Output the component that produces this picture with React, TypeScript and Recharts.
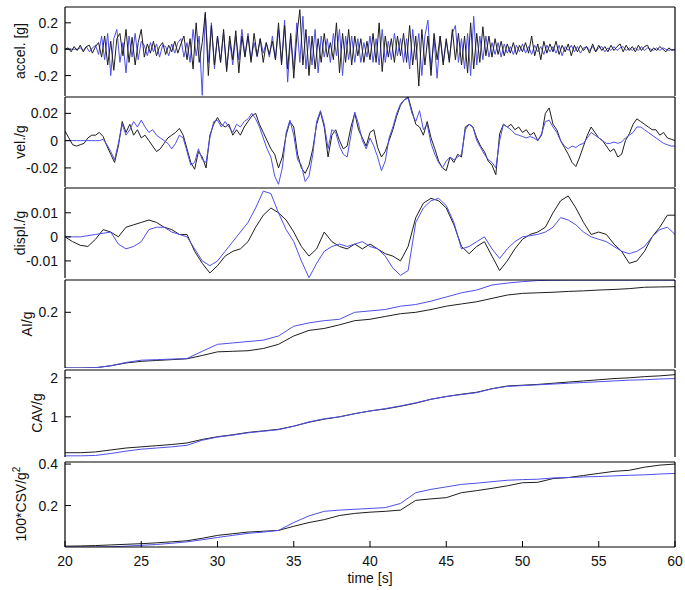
import { LineChart, Line, XAxis, YAxis } from 'recharts'

// time axis
const xTicks = [20, 25, 30, 35, 40, 45, 50, 55, 60]

// acceleration [g], sampled every 0.2 s from 20 s
const accelBlack = [
  0, 0.01, -0.02, 0.02, -0.01, 0.03, -0.02, 0.02, 0.03, -0.03, 0.02,
  0.05, -0.06, 0.1, -0.12, 0.06, -0.16, 0.08, 0.12, -0.05, 0.15, -0.1, 0.09, -0.12, 0.05, 0.15,
  -0.06, 0.04, -0.03, 0.06, -0.05, 0.02, 0.05, -0.04, 0.03, -0.02, 0.06, -0.03, 0.04, 0.1, -0.08,
  0.08, -0.15, 0.2, -0.1, 0.05, 0.28, -0.2, 0.18, -0.12, 0.1,
  -0.1, 0.15, -0.17, 0.1, -0.08, 0.14, -0.18, 0.1, -0.06, 0.1, -0.1, 0.12, -0.05, 0.08, -0.1,
  0.05, -0.04, 0.06, -0.08, 0.2, -0.12, 0.18, -0.15, 0.12, -0.22, 0.1, 0.3, -0.12, 0.15, -0.2,
  0.1, -0.15, 0.08, -0.1, 0.12, -0.06, 0.05, -0.08, 0.2, -0.18, 0.12, -0.1, 0.15, -0.12, 0.1,
  -0.05, 0.08, -0.1, 0.06, -0.08, 0.12, -0.1, 0.2, -0.17, 0.1, -0.06, 0.08, -0.1, 0.1, -0.05,
  0.12, -0.1, 0.18, -0.12, 0.1, -0.28, 0.15, -0.12, 0.1, -0.2, 0.12, -0.08, 0.1, -0.12, 0.08,
  -0.1, 0.15, -0.08, 0.12, -0.12, 0.1, -0.18, 0.2, -0.15, 0.12, -0.1, 0.17, -0.05, 0.1, -0.06,
  0.08, -0.04, 0.06, -0.05, 0.04, -0.03, 0.05, -0.04, 0.03, -0.02, 0.05, -0.03, 0.1, -0.05, 0.04,
  -0.08, 0.06, -0.03, 0.04, -0.02, 0.06, -0.04, 0.03, -0.02, 0.04, -0.05, 0.03, -0.02, 0.03, -0.01,
  0.02, -0.03, 0.04, -0.02, 0.03, -0.01, 0.02, -0.02, 0.03, -0.01, 0.02, 0.04, -0.02, 0.03, -0.01,
  0.02, -0.02, 0.03, -0.01, 0.02, 0.03, -0.02, 0.01, -0.01, 0.02, 0.0, -0.02, 0.01, -0.01, 0.0,
]
const accelBlue = [
  0, 0, 0, 0, 0, 0.01, -0.01, 0.02, -0.02, 0.01, 0.03,
  -0.04, 0.1, -0.08, 0.12, -0.2, 0.08, 0.15, -0.1, 0.05, -0.18, 0.1, -0.06, 0.12, -0.08, 0.06,
  0.03, -0.05, 0.05, -0.02, 0.04, -0.06, 0.03, 0.02, -0.05, 0.04, -0.03, 0.05, 0.08, -0.06, 0.05,
  -0.1, 0.15, -0.05, 0.1, -0.35, 0.27, -0.1, 0.2, -0.15, 0.1,
  -0.1, 0.12, -0.15, 0.06, -0.12, 0.1, -0.08, 0.15, -0.05, 0.12, -0.08, 0.05, -0.06, 0.08, -0.03,
  0.05, -0.06, 0.1, -0.08, 0.15, -0.1, 0.22, -0.25, 0.1, -0.15, 0.2, -0.1, 0.25, -0.15, 0.1,
  -0.12, 0.15, -0.18, 0.1, -0.06, 0.08, -0.1, 0.12, -0.05, 0.15, -0.2, 0.1, -0.08, 0.1, -0.1,
  0.08, -0.1, 0.05, -0.06, 0.1, -0.1, 0.08, -0.12, 0.15, -0.1, 0.06, -0.08, 0.12, -0.05, 0.08,
  -0.1, 0.08, -0.15, 0.15, -0.08, 0.12, -0.2, 0.1, 0.22, -0.15, 0.08, -0.22, 0.1, -0.1, 0.06,
  -0.08, 0.12, 0.18, -0.1, 0.08, -0.15, 0.12, -0.2, 0.25, -0.12, 0.1, -0.08, 0.1, -0.06, 0.05,
  -0.04, 0.05, -0.06, 0.04, -0.03, 0.02, -0.04, 0.03, -0.02, 0.04, -0.03, 0.02, -0.04, 0.03, -0.02,
  0.02, -0.04, 0.03, -0.02, 0.02, -0.03, 0.03, -0.05, 0.02, -0.01, 0.03, -0.02, 0.02, -0.03, 0.01,
  0.02, -0.01, 0.02, -0.02, 0.01, 0.02, -0.02, 0.01, -0.01, 0.02, -0.01, 0.01, 0.02, -0.01, 0.01,
  -0.01, 0.01, -0.01, 0.02, -0.01, 0.01, 0.0, -0.01, 0.01, -0.01, 0.01, 0.0, -0.01, 0.0, -0.01,
]

// velocity / g, every 0.25 s
const velBlack = [
  0.007, 0.002, -0.003, -0.004, -0.003, -0.002, 0.002, 0.004,
  0.004, 0.006, 0.003, -0.004, -0.01, -0.016, -0.004, 0.014,
  0.006, 0.012, 0.004, 0.008, 0.002, 0.004, 0.0, -0.004,
  -0.008, -0.006, -0.002, 0.002, 0.004, 0.006, 0.009, 0.004,
  -0.006, -0.016, -0.021, -0.008, -0.012, -0.02, 0.004, 0.012,
  0.017, 0.012, 0.01, 0.012, 0.004, 0.008, 0.004, 0.01,
  0.014, 0.018, 0.02, 0.012, 0.006, 0.0, -0.006, -0.01,
  -0.02, -0.012, 0.004, 0.014, 0.01, -0.01, -0.02, -0.024,
  -0.018, -0.006, 0.012, 0.021, 0.01, -0.012, 0.004, 0.008,
  0.0, -0.006, -0.004, 0.01, 0.02, 0.008, 0.002, -0.004,
  0.006, 0.008, -0.005, -0.012, -0.008, 0.0, 0.008, 0.018,
  0.026, 0.03, 0.032, 0.022, 0.012, 0.01, 0.004, 0.014,
  0.002, -0.006, -0.015, -0.02, -0.022, -0.012, -0.016, -0.01,
  -0.012, 0.01, 0.012, 0.01, 0.002, -0.004, -0.008, -0.015,
  -0.018, -0.025, 0.005, 0.012, 0.01, 0.012, 0.008, 0.01,
  0.006, 0.008, 0.004, 0.006, 0.0, 0.004, 0.02, 0.024,
  0.012, 0.008, 0.0, -0.005, -0.01, -0.016, -0.019, -0.012,
  -0.004, 0.004, 0.01, 0.006, 0.002, 0.0, -0.004, -0.008,
  -0.006, -0.012, -0.01, 0.0, 0.005, 0.012, 0.016, 0.014,
  0.012, 0.01, 0.008, 0.008, 0.004, 0.006, 0.002, 0.001,
  0.0,
]
const velBlue = [
  0, 0, 0, 0, 0, 0, 0, 0,
  0, 0, 0.001, -0.003, -0.008, -0.014, -0.002, 0.012,
  0.004, 0.008, 0.014, 0.01, 0.015, 0.01, 0.006, 0.008,
  0.004, 0.002, 0.0, -0.002, -0.006, -0.002, 0.004, 0.002,
  -0.008, -0.018, -0.016, -0.006, -0.014, -0.016, 0.002, 0.014,
  0.015, 0.01, 0.014, 0.01, 0.006, 0.012, 0.01, 0.014,
  0.016, 0.02, 0.016, 0.01, 0.002, -0.006, -0.012, -0.026,
  -0.032, -0.02, 0.006, 0.015, 0.004, -0.014, -0.018, -0.03,
  -0.026, -0.01, 0.014, 0.022, 0.012, -0.006, 0.008, 0.006,
  -0.004, -0.01, -0.012, 0.004, 0.021, 0.012, 0.0, -0.006,
  0.002, -0.004, -0.012, -0.022, -0.015, 0.002, 0.01, 0.02,
  0.027, 0.03, 0.031, 0.02, 0.014, 0.022, 0.008, 0.012,
  -0.002, -0.01, -0.016, -0.02, -0.015, -0.012, -0.014, -0.012,
  -0.01, 0.008, 0.012, 0.01, 0.0, -0.005, -0.01, -0.014,
  -0.016, -0.02, 0.0, 0.012, 0.01, 0.008, 0.005, 0.004,
  0.003, 0.002, 0.003, 0.002, 0.0, 0.005, 0.014, 0.015,
  0.01, 0.006, 0.0, -0.004, -0.006, -0.004, -0.005, -0.003,
  -0.002, 0.002, 0.006, 0.004, 0.002, 0.0, -0.002, -0.002,
  -0.001, -0.002, -0.001, 0.002, 0.004, 0.006, 0.01, 0.01,
  0.008, 0.006, 0.004, 0.002, 0.0, -0.002, -0.003, -0.004,
  -0.004,
]

// displacement / g, every 0.5 s
const displBlack = [
  0.0, -0.002, -0.0035, -0.004, -0.001, 0.003, 0.002, 0.0, 0.004, 0.005,
  0.006, 0.007, 0.006, 0.004, 0.003, 0.001, 0.001, -0.006, -0.011, -0.015,
  -0.012, -0.008, -0.006, -0.005, -0.002, 0.004, 0.009, 0.012, 0.01, 0.007,
  0.002, -0.004, -0.008, -0.005, 0.002, -0.002, -0.004, -0.005, -0.003, -0.005,
  -0.003, -0.005, -0.007, -0.008, -0.01, -0.004, 0.008, 0.014, 0.016, 0.015,
  0.012, 0.005, -0.004, -0.007, -0.004, -0.002, -0.008, -0.014, -0.01, -0.005,
  -0.001, 0.001, 0.002, 0.004, 0.01, 0.015, 0.017, 0.012, 0.006, 0.001,
  0.002, 0.001, -0.003, -0.006, -0.011, -0.01, -0.006, 0.0, 0.004, 0.009,
  0.009,
]
const displBlue = [
  0.0, 0.0, 0.0, 0.0005, 0.001, 0.0015, 0.002, -0.003, -0.005, -0.004,
  -0.002, 0.003, 0.004, 0.004, 0.002, 0.001, 0.0, -0.005, -0.01, -0.012,
  -0.01, -0.006, -0.002, 0.002, 0.006, 0.012, 0.019, 0.018, 0.01, 0.003,
  -0.002, -0.01, -0.017, -0.011, -0.006, -0.004, -0.003, -0.004, -0.003, -0.002,
  -0.004, -0.005, -0.008, -0.013, -0.016, -0.014, 0.006, 0.012, 0.015, 0.016,
  0.013, 0.006, -0.005, -0.004, -0.002, 0.0, -0.005, -0.009, -0.005, -0.002,
  0.0, 0.0005, 0.001, 0.002, 0.004, 0.008, 0.007, 0.005, 0.002, 0.0,
  -0.001, -0.002, -0.004, -0.006, -0.007, -0.006, -0.004, 0.0, 0.003, 0.004,
  0.001,
]

// Arias intensity / g, every 1 s
const aiBlack = [
  0, 0, 0.001, 0.008, 0.018, 0.024, 0.027, 0.03, 0.033, 0.045,
  0.058, 0.06, 0.062, 0.07, 0.085, 0.115, 0.135, 0.142, 0.155, 0.17,
  0.175, 0.185, 0.195, 0.2, 0.21, 0.222, 0.23, 0.238, 0.25, 0.262,
  0.268, 0.27, 0.272, 0.275, 0.277, 0.28, 0.282, 0.285, 0.29, 0.291,
  0.292,
]
const aiBlue = [
  0, 0, 0.001, 0.008, 0.02, 0.028, 0.03, 0.032, 0.034, 0.06,
  0.085, 0.09, 0.095, 0.1, 0.115, 0.15, 0.162, 0.17, 0.175, 0.2,
  0.205, 0.21, 0.222, 0.228, 0.24, 0.255, 0.27, 0.28, 0.298, 0.305,
  0.31, 0.314, 0.315, 0.3155, 0.3155, 0.3155, 0.3155, 0.3155, 0.3155, 0.3155,
  0.3155,
]

// cumulative absolute velocity / g, every 1 s
const cavBlack = [
  0.08, 0.08, 0.1, 0.15, 0.2, 0.23, 0.26, 0.29, 0.33, 0.42,
  0.49, 0.54, 0.6, 0.64, 0.68, 0.76, 0.86, 0.94, 1.0, 1.08,
  1.15, 1.2, 1.27, 1.35, 1.45, 1.52, 1.58, 1.63, 1.72, 1.79,
  1.81, 1.83, 1.86, 1.89, 1.92, 1.95, 1.98, 2.0, 2.03, 2.05,
  2.08,
]
const cavBlue = [
  0.0, 0.0, 0.01, 0.06, 0.12, 0.17, 0.2, 0.23, 0.27, 0.4,
  0.48, 0.53, 0.59, 0.63, 0.67, 0.76, 0.87, 0.95, 1.0, 1.08,
  1.15, 1.21, 1.28, 1.36, 1.45, 1.52, 1.57, 1.62, 1.72, 1.78,
  1.8, 1.82, 1.84, 1.86, 1.88, 1.9, 1.92, 1.94, 1.95, 1.97,
  1.98,
]

// 100 * cumulative squared velocity / g^2, every 1 s
const csvBlack = [
  0.004, 0.005, 0.007, 0.01, 0.013, 0.016, 0.02, 0.025, 0.03, 0.042,
  0.056, 0.064, 0.072, 0.076, 0.08, 0.1, 0.118, 0.132, 0.152, 0.162,
  0.168, 0.172, 0.178, 0.225, 0.232, 0.238, 0.262, 0.272, 0.283, 0.295,
  0.31, 0.312, 0.33, 0.335, 0.345, 0.355, 0.365, 0.37, 0.385, 0.395,
  0.4,
]
const csvBlue = [
  0.0, 0.0, 0.0, 0.001, 0.004, 0.008, 0.012, 0.018, 0.025, 0.035,
  0.046, 0.056, 0.066, 0.072, 0.08, 0.118, 0.15, 0.172, 0.178, 0.182,
  0.186, 0.19, 0.21, 0.262, 0.278, 0.29, 0.302, 0.308, 0.315, 0.322,
  0.325, 0.327, 0.333, 0.335, 0.338, 0.34, 0.343, 0.346, 0.348, 0.352,
  0.355,
]

const BLACK = '#1e1e1e'
const BLUE = '#4f4fe8'
const FONT = '"Liberation Sans", Arial, Helvetica, sans-serif'
const PAD = 10 // room above each panel so tick labels are not clipped

type Row = { t: number; k: number; b: number }

const rowsOf = (step: number, black: number[], blue: number[]): Row[] =>
  black.map((k, i) => ({ t: +(20 + i * step).toFixed(2), k, b: blue[i] }))

type PanelProps = {
  top: number
  height: number
  rows: Row[]
  domain: [number, number]
  yTicks: number[]
  yLabels: string[]
  blueFirst?: boolean
  last?: boolean
}

function Panel({ top, height, rows, domain, yTicks, yLabels, blueFirst, last }: PanelProps) {
  const extra = last ? 42 : 0
  const frame = { stroke: '#000', strokeWidth: 1.2 }

  const xTick = (p: any) => (
    <g>
      <line x1={p.x} x2={p.x} y1={p.y - 8} y2={p.y - 14} stroke="#000" />
      {last && (
        <text x={p.x} y={p.y} dy="0.75em" textAnchor="middle" fontSize={14} fontFamily={FONT} fill="#111">
          {p.payload.value}
        </text>
      )}
    </g>
  )
  const yTick = (p: any) => (
    <g>
      <line x1={p.x + 7} x2={p.x + 13} y1={p.y} y2={p.y} stroke="#000" />
      <text x={p.x} y={p.y} dy="0.36em" textAnchor="end" fontSize={14} fontFamily={FONT} fill="#111">
        {yLabels[yTicks.indexOf(p.payload.value)]}
      </text>
    </g>
  )

  const black = <Line key="k" xAxisId="b" yAxisId="l" dataKey="k" stroke={BLACK} strokeWidth={1} dot={false} isAnimationActive={false} />
  const blue = <Line key="b" xAxisId="b" yAxisId="l" dataKey="b" stroke={BLUE} strokeWidth={1} dot={false} isAnimationActive={false} />

  return (
    <div style={{ position: 'absolute', left: 0, top: top - PAD }}>
      <LineChart width={685} height={height + PAD + 1 + extra} data={rows} margin={{ top: PAD, right: 10, bottom: 1, left: 0 }}>
        <XAxis xAxisId="b" dataKey="t" type="number" domain={[20, 60]} allowDataOverflow ticks={xTicks} interval={0}
          height={extra} tickSize={0} tickMargin={8} axisLine={frame} tick={xTick} />
        <XAxis xAxisId="t" orientation="top" mirror dataKey="t" type="number" domain={[20, 60]} allowDataOverflow ticks={xTicks} interval={0}
          tickSize={6} tick={false} axisLine={frame} tickLine={{ stroke: '#000' }} />
        <YAxis yAxisId="l" type="number" domain={domain} allowDataOverflow ticks={yTicks} interval={0}
          width={65} tickSize={0} tickMargin={7} axisLine={frame} tick={yTick} />
        <YAxis yAxisId="r" orientation="right" mirror type="number" domain={domain} allowDataOverflow ticks={yTicks} interval={0}
          tickSize={6} tick={false} axisLine={frame} tickLine={{ stroke: '#000' }} />
        {blueFirst ? [blue, black] : [black, blue]}
      </LineChart>
    </div>
  )
}

export default function App() {
  const labelStyle = { fontSize: 14, fontFamily: FONT, fill: '#111' }
  return (
    <div style={{ position: 'absolute', left: 0, top: 0, width: 685, height: 590, background: '#fff' }}>
      <Panel top={7} height={89} rows={rowsOf(0.2, accelBlack, accelBlue)} domain={[-0.355, 0.32]}
        yTicks={[-0.2, 0, 0.2]} yLabels={['-0.2', '0', '0.2']} blueFirst />
      <Panel top={97} height={90} rows={rowsOf(0.25, velBlack, velBlue)} domain={[-0.034, 0.032]}
        yTicks={[-0.02, 0, 0.02]} yLabels={['-0.02', '0', '0.02']} />
      <Panel top={188} height={90} rows={rowsOf(0.5, displBlack, displBlue)} domain={[-0.0171, 0.0203]}
        yTicks={[-0.01, 0, 0.01]} yLabels={['-0.01', '0', '0.01']} />
      <Panel top={280} height={88} rows={rowsOf(1, aiBlack, aiBlue)} domain={[0, 0.316]}
        yTicks={[0.2]} yLabels={['0.2']} />
      <Panel top={370} height={87} rows={rowsOf(1, cavBlack, cavBlue)} domain={[-0.03, 2.2]}
        yTicks={[1, 2]} yLabels={['1', '2']} />
      <Panel top={462} height={85} rows={rowsOf(1, csvBlack, csvBlue)} domain={[0, 0.41]}
        yTicks={[0.2, 0.4]} yLabels={['0.2', '0.4']} last />

      <svg width={685} height={590} style={{ position: 'absolute', left: 0, top: 0, pointerEvents: 'none' }}>
        <text transform="translate(20,51) rotate(-90)" textAnchor="middle" dominantBaseline="central" {...labelStyle}>accel. [g]</text>
        <text transform="translate(20,142) rotate(-90)" textAnchor="middle" dominantBaseline="central" {...labelStyle}>vel./g</text>
        <text transform="translate(20,233) rotate(-90)" textAnchor="middle" dominantBaseline="central" {...labelStyle}>displ./g</text>
        <text transform="translate(27,324) rotate(-90)" textAnchor="middle" dominantBaseline="central" {...labelStyle}>AI/g</text>
        <text transform="translate(37,413) rotate(-90)" textAnchor="middle" dominantBaseline="central" {...labelStyle}>CAV/g</text>
        <text transform="translate(21,504) rotate(-90)" textAnchor="middle" dominantBaseline="central" {...labelStyle}>
          100*CSV/g<tspan dy={-5} fontSize={10}>2</tspan>
        </text>
        <text x={370} y={578} textAnchor="middle" dominantBaseline="central" {...labelStyle}>time [s]</text>
      </svg>
    </div>
  )
}
